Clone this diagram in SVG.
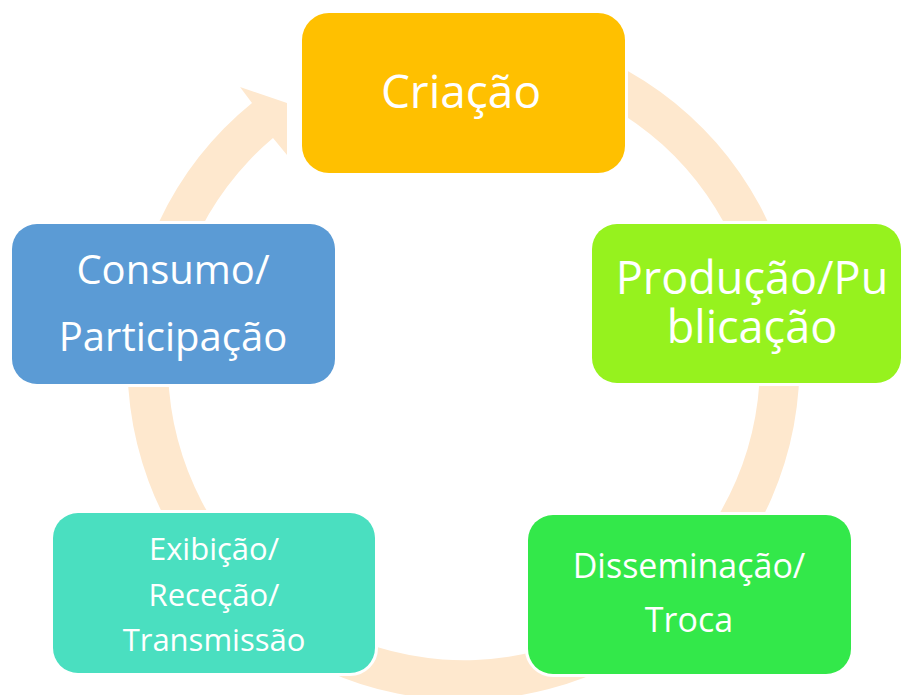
<svg xmlns="http://www.w3.org/2000/svg" width="901" height="695" viewBox="0 0 901 695">
<style>
.box{stroke:#ffffff;stroke-width:6;paint-order:stroke}
.lbl{fill:#ffffff;font-family:"Open Sans","Noto Sans","DejaVu Sans",sans-serif;text-anchor:middle}
.ring{fill:#FEE8CE}
</style>
<rect width="901" height="695" fill="#ffffff"/>
<g id="connectors">
<path class="ring" d="M 521.35 33.1 A 336 336 0 1 1 252 103 L 240 87 L 287 103 L 287 155 L 273 138 A 296 296 0 1 0 514.4 72.5 Z"/>
</g>
<g id="node-criacao">
<rect class="box" x="302" y="13" width="323" height="160" rx="27" fill="#FFC000"/>
<text class="lbl" x="461" y="108" font-size="46">Criação</text>
</g>
<g id="node-producao">
<rect class="box" x="592" y="224" width="309" height="159" rx="25" fill="#96F21E"/>
<text class="lbl" font-size="45"><tspan x="752" y="294">Produção/Pu</tspan><tspan x="752" y="343">blicação</tspan></text>
</g>
<g id="node-disseminacao">
<rect class="box" x="528" y="515" width="323" height="159" rx="25" fill="#33E84A"/>
<text class="lbl" font-size="34"><tspan x="689" y="578">Disseminação/</tspan><tspan x="689" y="632">Troca</tspan></text>
</g>
<g id="node-exibicao">
<rect class="box" x="53" y="513" width="322" height="160" rx="25" fill="#4ADFC0"/>
<text class="lbl" font-size="31"><tspan x="214" y="560">Exibição/</tspan><tspan x="214" y="606">Receção/</tspan><tspan x="214" y="651">Transmissão</tspan></text>
</g>
<g id="node-consumo">
<rect class="box" x="12" y="224" width="323" height="160" rx="25" fill="#5B9BD5"/>
<text class="lbl" font-size="40"><tspan x="173" y="284">Consumo/</tspan><tspan x="173" y="351">Participação</tspan></text>
</g>
</svg>
